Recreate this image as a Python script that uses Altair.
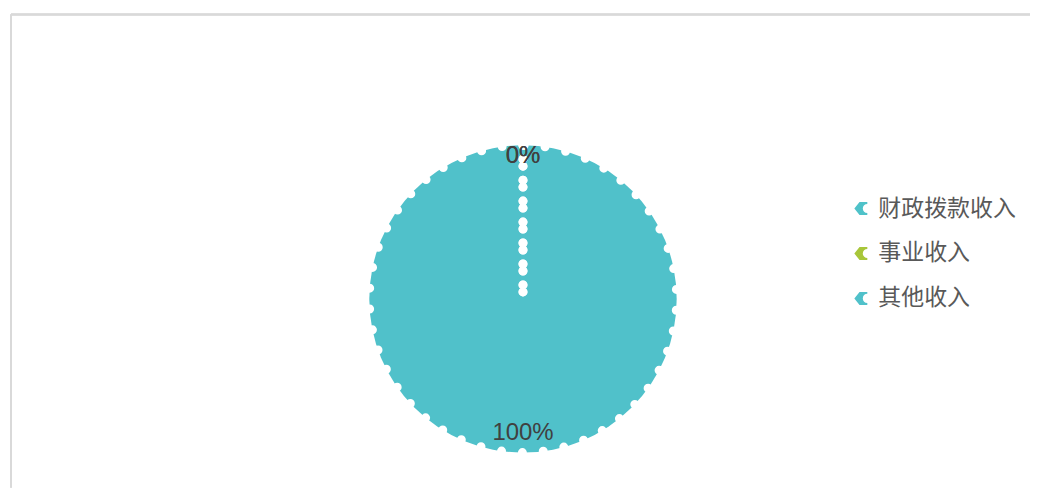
import altair as alt
import pandas as pd

categories = ["财政拨款收入", "事业收入", "其他收入"]
amounts = [0, 0, 100]
colors = ["#4FC2C9", "#A8C63A", "#50C1CA"]

# draw the largest slice first so the zero-width slices' dotted edges stay visible on top
df = pd.DataFrame({"category": categories, "amount": amounts}).iloc[::-1].reset_index(drop=True)

symbol_path = "M-1,0 L-0.2,-1 L1,-1 L1,-0.7 A0.7,0.7 0 0 0 1,0.7 L1,1 L-0.2,1 Z"

W, H = 1021, 474
CX, CY = 513, 285

base = alt.Chart(df).transform_joinaggregate(
    total="sum(amount)"
).transform_calculate(
    pct="datum.amount / datum.total"
)

frame_v = base.mark_rule(color="#D9D9D9", strokeWidth=2).encode(
    x=alt.value(0), y=alt.value(0), y2=alt.value(H)
)
frame_h = base.mark_rule(color="#D9D9D9", strokeWidth=2).encode(
    y=alt.value(0), x=alt.value(0), x2=alt.value(W)
)

arcs = base.mark_arc(
    outerRadius=154, stroke="white", strokeWidth=9, strokeDash=[0, 21], strokeCap="round"
).encode(
    x=alt.value(CX),
    y=alt.value(CY),
    theta=alt.Theta("amount:Q", stack=True),
    color=alt.Color(
        "category:N",
        sort=categories,
        scale=alt.Scale(domain=categories, range=colors),
        legend=alt.Legend(
            title=None,
            orient="none",
            legendX=840,
            legendY=183,
            symbolType=symbol_path,
            symbolSize=169,
            symbolStrokeWidth=0,
            labelFontSize=23,
            labelFont="Noto Sans CJK SC",
            labelColor="#595959",
            rowPadding=21,
            labelOffset=6,
            padding=0,
        ),
    ),
    order=alt.Order("amount:Q", sort="ascending"),
)

labels = base.mark_text(
    radius=138.5, dy=-4.5, fontSize=24, font="Liberation Sans", color="#404040"
).encode(
    x=alt.value(CX),
    y=alt.value(CY),
    theta=alt.Theta("amount:Q", stack=True),
    detail="category:N",
    order=alt.Order("amount:Q", sort="ascending"),
    text=alt.Text("pct:Q", format=".0%"),
)

chart = alt.layer(frame_v, frame_h, arcs, labels).properties(
    width=W,
    height=H,
    padding={"left": 2, "top": 5, "right": 0, "bottom": 0},
).configure_view(
    stroke=None
)

chart.save("out.html", embed_options={"renderer": "svg", "actions": False})
